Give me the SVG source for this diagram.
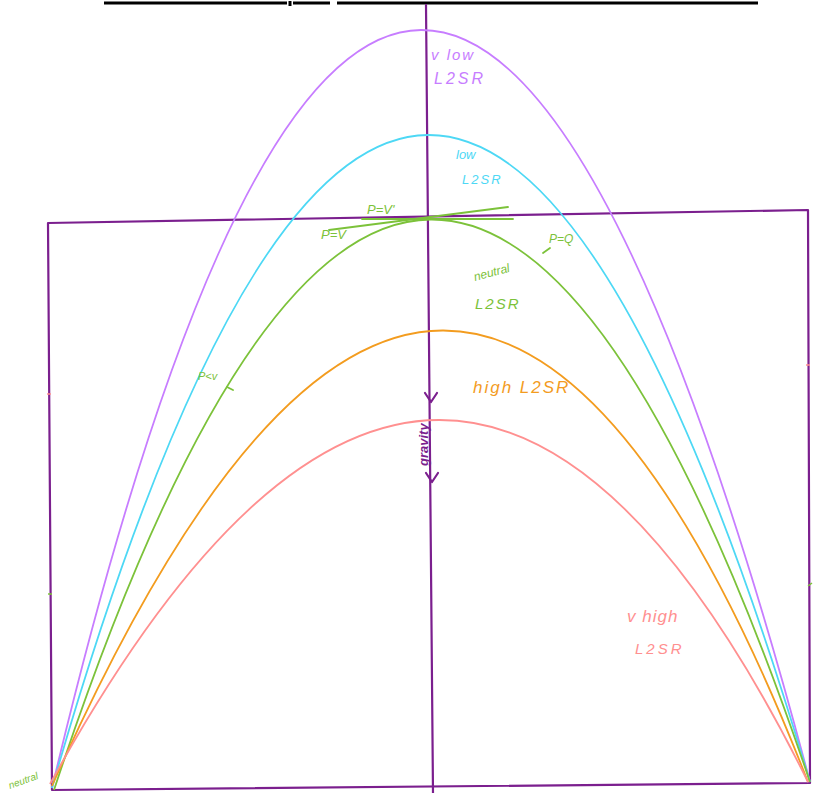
<svg xmlns="http://www.w3.org/2000/svg" width="834" height="793" viewBox="0 0 834 793">
<style>
.axis{stroke:#7b1f8e;stroke-width:2.2;fill:none;stroke-linecap:round;stroke-linejoin:round}
.curve{fill:none;stroke-width:1.8}
.t{font-family:"Liberation Sans",Arial,sans-serif;font-style:italic}
.g{fill:#7cc23a}.gs{stroke:#7cc23a;stroke-width:1.8;fill:none;stroke-linecap:round}
</style>
<rect width="834" height="793" fill="#ffffff"/>
<g id="topline" stroke="#000" stroke-width="3">
<line x1="104" y1="3" x2="287" y2="3"/>
<line x1="290" y1="1" x2="290" y2="6"/>
<line x1="293" y1="3" x2="330" y2="3"/>
<line x1="337" y1="3" x2="758" y2="3"/>
</g>
<g id="frame">
<path class="axis" d="M48,223 L808,210 L810,783 L52,790 Z"/>
<line class="axis" x1="426" y1="5" x2="433" y2="793"/>
<line x1="47" y1="394" x2="51" y2="394" stroke="#ff9090" stroke-width="1.5"/>
<line x1="48" y1="594" x2="52" y2="594" stroke="#7cc23a" stroke-width="1.5"/>
<line x1="806" y1="365" x2="810" y2="365" stroke="#ff9090" stroke-width="1.5"/>
<line x1="808" y1="586" x2="812" y2="583" stroke="#7cc23a" stroke-width="1.5"/>
</g>
<g id="curves">
<path id="c-vlow" class="curve" stroke="#c77dff" d="M52,788 Q411,-725 810,782"/>
<path id="c-low" class="curve" stroke="#4dd8f5" d="M52,788 Q425,-515 810,782"/>
<path id="c-neutral" class="curve" stroke="#7cc23a" d="M54,790 Q429,-347 810,782"/>
<path id="c-high" class="curve" stroke="#f39c1f" d="M52,786 Q455,-123 808,782"/>
<path id="c-vhigh" class="curve" stroke="#ff9090" d="M50,784 Q449,57 808,782"/>
</g>
<g id="connectors">
<line class="gs" x1="362" y1="219" x2="513" y2="219"/>
<line class="gs" x1="329" y1="230" x2="508" y2="207"/>
<line class="gs" x1="543" y1="253" x2="550" y2="248"/>
<line class="gs" x1="227" y1="387" x2="233" y2="390"/>
<polyline class="axis" points="425,393 431,402 437,393"/>
<polyline class="axis" points="426,473 432,482 438,473"/>
</g>
<g id="labels">
<text class="t" x="431" y="60" font-size="15" letter-spacing="2" fill="#c77dff">v low</text>
<text class="t" x="434" y="84" font-size="16" letter-spacing="3" fill="#c77dff">L2SR</text>
<text class="t" x="456" y="159" font-size="13" fill="#4dd8f5">low</text>
<text class="t" x="462" y="184" font-size="13" letter-spacing="2" fill="#4dd8f5">L2SR</text>
<text class="t g" x="367" y="214" font-size="13">P=V'</text>
<text class="t g" x="321" y="239" font-size="13">P=V</text>
<text class="t g" x="549" y="243" font-size="12">P=Q</text>
<text class="t g" x="198" y="380" font-size="11">P&lt;v</text>
<text class="t g" x="475" y="281" font-size="12" transform="rotate(-15 475 281)">neutral</text>
<text class="t g" x="475" y="309" font-size="15" letter-spacing="2">L2SR</text>
<text class="t" x="473" y="393" font-size="17" letter-spacing="2" fill="#f39c1f">high  L2SR</text>
<text class="t" x="627" y="622" font-size="17" letter-spacing="1" fill="#ff9090">v  high</text>
<text class="t" x="635" y="654" font-size="15" letter-spacing="3" fill="#ff9090">L2SR</text>
<text class="t" x="0" y="0" font-size="13" fill="#7b1f8e" font-weight="bold" transform="translate(428,466) rotate(-90)">gravity</text>
<text class="t g" x="10" y="789" font-size="10" transform="rotate(-20 10 789)">neutral</text>
</g>
</svg>
